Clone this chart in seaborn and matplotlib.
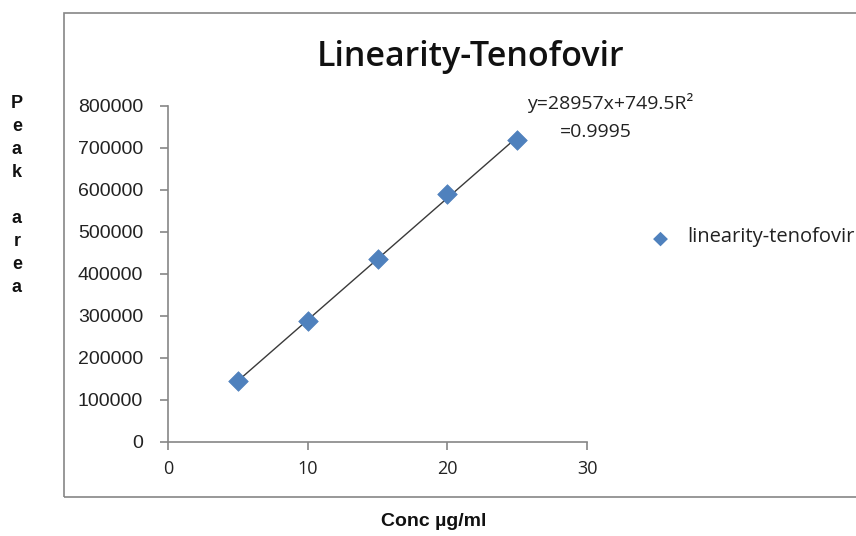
import matplotlib
matplotlib.use("Agg")
import matplotlib.pyplot as plt
from matplotlib.patches import Rectangle
from matplotlib import font_manager
import seaborn as sns
import pandas as pd

conc = [5, 10, 15, 20, 25]
peak_area = [146000, 287000, 435000, 590000, 720000]
x_ticks = [0, 10, 20, 30]
y_ticks = [0, 100000, 200000, 300000, 400000, 500000, 600000, 700000, 800000]
title = "Linearity-Tenofovir"
series_name = "linearity-tenofovir"
equation = "y=28957x+749.5R²"
r2_text = "=0.9995"

df = pd.DataFrame({"conc": conc, "area": peak_area})

sns.set_style("white")
plt.rcParams["font.family"] = ["Open Sans", "DejaVu Sans"]

installed = {f.name for f in font_manager.fontManager.ttflist}
narrow = "Liberation Sans Narrow" in installed

fig = plt.figure(figsize=(8.56, 5.36), dpi=100)
W, H = 856, 536
ax = fig.add_axes([168 / W, 1 - 442 / H, (587 - 168) / W, (442 - 106) / H])

grey = "#868686"
fig.patches.append(Rectangle((64 / W, 1 - 497 / H), 1.0, (497 - 13) / H,
                             transform=fig.transFigure, fill=False,
                             edgecolor=grey, linewidth=1.2, zorder=0))

sns.regplot(data=df, x="conc", y="area", scatter=False, ci=None, ax=ax,
            line_kws=dict(color="#3a3a3a", linewidth=1.0))
sns.scatterplot(data=df, x="conc", y="area", marker="D", s=100,
                color="#4F81BD", edgecolor="#4F81BD", linewidth=0.5, ax=ax, zorder=3)

ax.set_xlim(0, 30)
ax.set_ylim(0, 800000)
ax.set_xticks(x_ticks)
ax.set_yticks(y_ticks)
ax.set_xticklabels([str(t) for t in x_ticks], fontsize=13, color="#222222")
ax.set_yticklabels([str(t) for t in y_ticks], fontsize=14, color="#222222",
                   family=["Liberation Sans", "DejaVu Sans"])
ax.set_xlabel("")
ax.set_ylabel("")
for s in ["top", "right"]:
    ax.spines[s].set_visible(False)
for s in ["left", "bottom"]:
    ax.spines[s].set_color(grey)
    ax.spines[s].set_linewidth(1.2)
ax.tick_params(axis="both", direction="out", length=6, width=1.2, color=grey,
               left=True, bottom=True)
ax.tick_params(axis="x", pad=7)
ax.tick_params(axis="y", pad=12)

fig.text(471 / W, 1 - 57 / H, title, ha="center", va="center", fontsize=24.5,
         fontweight="semibold", color="#111111")

fig.text(527 / W, 1 - 103 / H, equation, ha="left", va="center", fontsize=14,
         color="#222222")
fig.text(560 / W, 1 - 132 / H, r2_text, ha="left", va="center", fontsize=14,
         color="#222222")

# legend
fig.text(660 / W, 1 - 238 / H, "◆", ha="center", va="center", fontsize=14,
         color="#4F81BD", family=["DejaVu Sans"])
fig.text(687 / W, 1 - 237 / H, series_name, ha="left", va="center", fontsize=14.5,
         color="#222222")

# vertical stacked y label
ylabel = "Peak area"
y0 = 103
for i, ch in enumerate(ylabel):
    if ch != " ":
        fig.text(17 / W, 1 - (y0 + 23.1 * i) / H, ch, ha="center", va="center",
                 fontsize=13, fontweight="bold", color="#111111",
                 family=["Liberation Sans", "DejaVu Sans"])

if narrow:
    fig.text(434 / W, 1 - 521 / H, "Conc µg/ml", ha="center", va="center",
             fontsize=17.5, fontweight="bold", color="#111111",
             family=["Liberation Sans Narrow", "DejaVu Sans"])
else:
    fig.text(434 / W, 1 - 521 / H, "Conc µg/ml", ha="center", va="center",
             fontsize=14, fontweight="bold", color="#111111",
             family=["Liberation Sans", "DejaVu Sans"])

fig.savefig("out.png", dpi=100)
